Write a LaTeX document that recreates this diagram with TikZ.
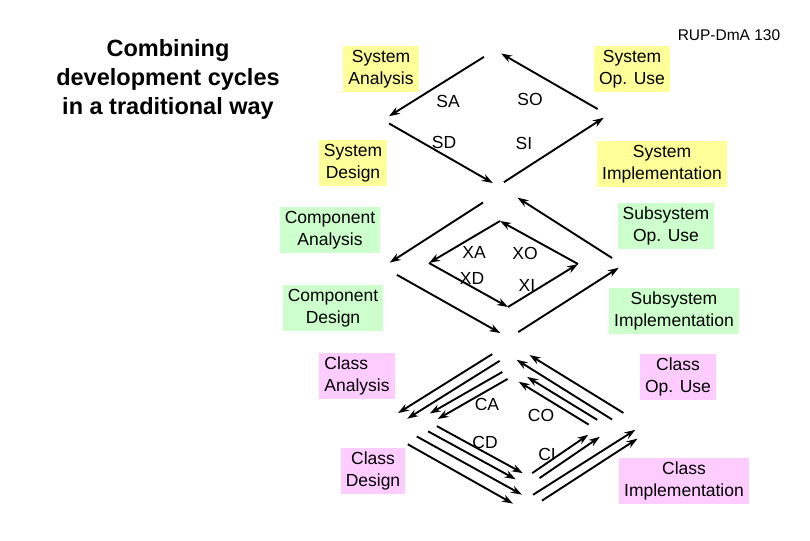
\documentclass[tikz,border=0pt]{standalone}
\usepackage{fontspec}
\setmainfont{Liberation Sans}
\usetikzlibrary{arrows.meta}
\definecolor{rupyellow}{HTML}{FFFF99}
\definecolor{rupgreen}{HTML}{CCFFCC}
\definecolor{rupviolet}{HTML}{FFCCFF}

\begin{document}
\begin{tikzpicture}[
    x=1pt, y=-1pt,
    phasebox/.style={rectangle, inner xsep=5pt, inner ysep=3pt, minimum height=46pt, align=center, font=\fontsize{17.5}{21.5}\selectfont},
    sysbox/.style={phasebox, fill=rupyellow},
    subbox/.style={phasebox, fill=rupgreen},
    clsbox/.style={phasebox, fill=rupviolet},
    cyclabel/.style={inner sep=0pt, font=\fontsize{17.5}{21.5}\selectfont},
    arrow/.style={-{Stealth[length=11pt, width=7.5pt]}, line width=1.9pt, black}
]
\useasboundingbox (0,0) rectangle (810,540);

\node[font=\bfseries\fontsize{23.5}{29}\selectfont, align=center] (title) at (168,79) {Combining\\development cycles\\in a traditional way};
\node[font=\fontsize{15.5}{18}\selectfont] (ref) at (729,35) {RUP-DmA 130};

% phase boxes
\node[sysbox] (sysana) at (381,69) {System\\Analysis};
\node[sysbox] (sysuse) at (632,69) {System\\Op. Use};
\node[sysbox] (sysdes) at (353,163) {System\\Design};
\node[sysbox] (sysimp) at (662,164) {System\\Implementation};
\node[subbox] (comana) at (330,230) {Component\\Analysis};
\node[subbox] (subuse) at (666,226) {Subsystem\\Op. Use};
\node[subbox] (comdes) at (333,308) {Component\\Design};
\node[subbox] (subimp) at (674,311) {Subsystem\\Implementation};
\node[clsbox, align=left] (clsana) at (357,376) {Class\\Analysis};
\node[clsbox] (clsuse) at (678,377) {Class\\Op. Use};
\node[clsbox] (clsdes) at (373,471) {Class\\Design};
\node[clsbox] (clsimp) at (684,481) {Class\\Implementation};

% cycle corners
\coordinate (sT) at (495,50);  \coordinate (sL) at (383,120); \coordinate (sB) at (498,186); \coordinate (sR) at (608,115);
\coordinate (xT) at (504,189); \coordinate (xL) at (383,267); \coordinate (xB) at (509,338); \coordinate (xR) at (623,265);
\coordinate (kT) at (500,221); \coordinate (kL) at (429,263); \coordinate (kB) at (508,307); \coordinate (kR) at (578,264);
\coordinate (cT) at (510,343); \coordinate (cL) at (387,420); \coordinate (cB) at (528,498); \coordinate (cR) at (643,425);
\coordinate (dT) at (509,355); \coordinate (dL) at (386,432); \coordinate (dB) at (526,511); \coordinate (dR) at (640,437);
\coordinate (eT) at (511,367); \coordinate (eL) at (422,418); \coordinate (eB) at (528,476); \coordinate (eR) at (604,424);
\coordinate (fT) at (511,377); \coordinate (fL) at (422,428); \coordinate (fB) at (528,486); \coordinate (fR) at (604,434);

% system cycle
\draw[arrow, shorten <=13pt, shorten >=7pt] (sT) -- (sL);
\draw[arrow, shorten <=7pt, shorten >=6pt] (sL) -- (sB);
\draw[arrow, shorten <=7pt, shorten >=5pt] (sB) -- (sR);
\draw[arrow, shorten <=12pt, shorten >=7pt] (sR) -- (sT);

% subsystem cycle
\draw[arrow, shorten <=25pt, shorten >=8pt] (xT) -- (xL);
\draw[arrow, shorten <=16pt, shorten >=10pt] (xL) -- (xB);
\draw[arrow, shorten <=11pt, shorten >=5pt] (xB) -- (xR);
\draw[arrow, shorten <=13pt, shorten >=16pt] (xR) -- (xT);

% component cycle
\draw[arrow] (kT) -- (kL);
\draw[arrow] (kL) -- (kB);
\draw[arrow] (kB) -- (kR);
\draw[arrow] (kR) -- (kT);

% class cycles
\draw[arrow, shorten <=21pt, shorten >=13pt] (cT) -- (cL);
\draw[arrow, shorten <=34pt, shorten >=7pt] (cL) -- (cB);
\draw[arrow, shorten <=6pt, shorten >=9pt] (cB) -- (cR);
\draw[arrow, shorten <=23pt, shorten >=23pt] (cR) -- (cT);

\draw[arrow, shorten <=11pt, shorten >=25pt] (dT) -- (dL);
\draw[arrow, shorten <=25pt, shorten >=15pt] (dL) -- (dB);
\draw[arrow, shorten <=19pt, shorten >=3pt] (dB) -- (dR);
\draw[arrow, shorten <=33pt, shorten >=9pt] (dR) -- (dT);

\draw[arrow, shorten <=10pt, shorten >=9pt] (eT) -- (eL);
\draw[arrow, shorten <=17pt, shorten >=6pt] (eL) -- (eB);
\draw[arrow, shorten <=5pt, shorten >=19pt] (eB) -- (eR);
\draw[arrow, shorten <=8pt, shorten >=19pt] (eR) -- (eT);

\draw[arrow, shorten <=4pt, shorten >=18pt] (fT) -- (fL);
\draw[arrow, shorten <=7pt, shorten >=14pt] (fL) -- (fB);
\draw[arrow, shorten <=14pt, shorten >=5pt] (fB) -- (fR);
\draw[arrow, shorten <=18pt, shorten >=9pt] (fR) -- (fT);

% cycle labels
\node[cyclabel] (sa) at (448,101) {SA};
\node[cyclabel] (so) at (530,99) {SO};
\node[cyclabel] (sd) at (444,142) {SD};
\node[cyclabel] (si) at (524,143) {SI};
\node[cyclabel] (xa) at (474,252) {XA};
\node[cyclabel] (xo) at (525,253) {XO};
\node[cyclabel] (xd) at (472,278) {XD};
\node[cyclabel] (xi) at (527,285) {XI};
\node[cyclabel] (ca) at (487,404) {CA};
\node[cyclabel] (co) at (541,415) {CO};
\node[cyclabel] (cd) at (485,442) {CD};
\node[cyclabel] (ci) at (547,454) {CI};

\end{tikzpicture}
\end{document}
